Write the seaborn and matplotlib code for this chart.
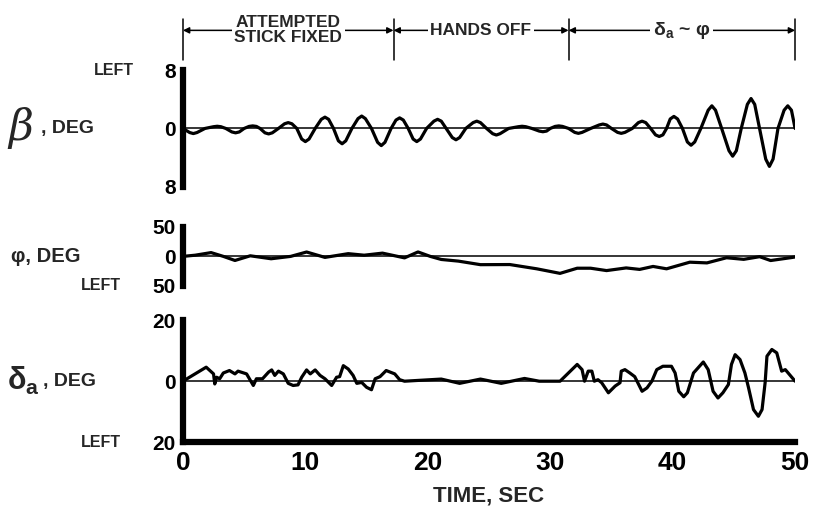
import numpy as np
import pandas as pd
import seaborn as sns
import matplotlib.transforms as mtransforms
from matplotlib import pyplot as plt

# sideslip angle beta, deg (crossings, shoulders and peaks)
beta_t = [0.0, 0.55, 0.85, 1.15, 1.8, 2.5, 2.8, 3.1, 3.5, 4.0, 4.3, 4.6, 5.0, 5.4, 5.7, 6.0,
          6.3, 6.7, 7.0, 7.3, 7.8, 8.3, 8.6, 8.9, 9.3, 9.7, 10.0, 10.3, 10.8, 11.3, 11.6, 11.9,
          12.3, 12.7, 13.0, 13.3, 13.8, 14.3, 14.6, 14.9, 15.4, 15.9, 16.2, 16.5, 17.0, 17.4,
          17.7, 18.0, 18.4, 18.8, 19.1, 19.4, 19.9, 20.5, 20.8, 21.1, 21.5, 22.0, 22.3, 22.6,
          23.1, 23.7, 24.0, 24.3, 24.8, 25.3, 25.6, 25.9, 26.6, 27.4, 27.7, 28.0, 28.5, 29.1,
          29.4, 29.7, 30.0, 30.4, 30.7, 31.0, 31.5, 32.0, 32.3, 32.6, 33.3, 34.0, 34.3, 34.6,
          35.0, 35.5, 35.8, 36.1, 36.7, 37.2, 37.5, 37.8, 38.2, 38.6, 38.9, 39.2, 39.5, 39.8,
          40.1, 40.4, 40.8, 41.2, 41.5, 41.8, 42.3, 42.9, 43.2, 43.5, 44.0, 44.6, 44.9, 45.2,
          45.6, 46.1, 46.4, 46.7, 47.1, 47.6, 47.9, 48.2, 48.6, 49.1, 49.4, 49.7, 50.0]
beta_deg = [0.0, -0.56, -0.7, -0.56, 0.0, 0.24, 0.3, 0.24, 0.0, -0.48, -0.6, -0.48, 0.0, 0.28, 0.35, 0.28,
            0.0, -0.6, -0.75, -0.6, 0.0, 0.64, 0.8, 0.64, 0.0, -1.45, -1.8, -1.45, 0.0, 1.25, 1.55, 1.25,
            0.0, -1.7, -2.1, -1.7, 0.0, 1.35, 1.7, 1.35, 0.0, -1.9, -2.35, -1.9, 0.0, 1.15,
            1.45, 1.15, 0.0, -1.45, -1.8, -1.45, 0.0, 1.0, 1.25, 1.0, 0.0, -1.25, -1.55, -1.25,
            0.0, 0.8, 1.0, 0.8, 0.0, -0.72, -0.9, -0.72, 0.0, 0.24, 0.3, 0.24, 0.0, -0.36,
            -0.45, -0.36, 0.0, 0.28, 0.35, 0.28, 0.0, -0.54, -0.67, -0.54, 0.0, 0.48, 0.6, 0.48,
            0.0, -0.54, -0.67, -0.54, 0.0, 0.8, 1.0, 0.8, 0.0, -0.88, -1.1, -0.88, 0.0, 1.3,
            1.65, 1.3, 0.0, -1.85, -2.3, -1.85, 0.0, 2.5, 3.1, 2.5, 0.0, -3.05, -3.8, -3.05,
            0.0, 3.3, 4.1, 3.3, 0.0, -4.2, -5.2, -4.2, 0.0, 2.5, 3.1, 2.5, 0.0]

# bank angle phi, deg
phi_t = [0.0, 1.0, 2.3, 3.3, 4.25, 5.5, 7.2, 8.8, 10.1, 11.6, 13.5, 14.8, 16.3, 18.1, 19.2, 20.2,
         21.1, 22.5, 24.3, 26.7, 28.9, 30.8, 32.2, 33.3, 34.6, 36.2, 37.3, 38.4, 39.5, 41.4,
         42.8, 44.4, 45.8, 47.1, 48.0, 49.7, 50.0]
phi_deg = [0.0, 2.0, 6.4, 0.0, -6.9, 1.0, -4.0, 0.0, 7.4, -1.7, 4.6, 2.0, 5.5, -2.5, 7.5, 0.0,
           -5.2, -8.0, -14.0, -13.8, -21.0, -28.7, -20.0, -20.0, -24.0, -19.5, -22.0, -17.0, -21.0, -9.8,
           -11.0, -2.3, -5.0, -0.5, -7.0, -2.0, -1.0]

# aileron deflection delta_a, deg
da_t = [0.0, 1.9, 2.5, 2.6, 2.75, 3.0, 3.3, 3.8, 4.25, 4.5, 5.2, 5.75, 6.0, 6.5, 7.0, 7.25, 7.5,
        7.8, 8.2, 8.6, 9.0, 9.4, 9.7, 10.1, 10.4, 10.8, 11.2, 11.6, 12.15, 12.55, 12.8, 13.1,
        13.5, 13.9, 14.2, 14.6, 15.0, 15.4, 15.7, 16.1, 16.6, 17.3, 17.7, 18.1, 21.1, 22.6,
        24.3, 26.0, 27.9, 29.1, 30.6, 30.8, 32.2, 32.6, 32.8, 33.1, 33.4, 33.6, 33.9, 34.2,
        34.75, 35.3, 35.7, 35.8, 36.1, 36.5, 36.9, 37.5, 37.9, 38.3, 38.7, 39.2, 39.9, 40.2,
        40.5, 40.9, 41.2, 41.7, 42.5, 42.9, 43.3, 43.7, 44.1, 44.55, 44.8, 45.1, 45.5, 45.9,
        46.2, 46.6, 47.0, 47.3, 47.55, 47.7, 48.1, 48.5, 48.9, 49.2, 49.6, 50.0]
da_deg = [0.0, 4.6, 2.4, -0.9, 1.3, 0.8, 2.7, 3.5, 2.4, 3.3, 2.4, -1.4, 0.8, 0.8, 3.0, 3.7, 1.9,
          3.3, 2.4, -0.7, -1.4, -1.2, 1.3, 3.7, 2.4, 3.7, 1.9, 0.8, -1.4, 1.3, 1.5, 5.1,
          4.0, 1.9, -0.7, -0.4, -2.0, -2.8, 0.8, 1.5, 3.5, 2.4, 0.5, 0.0, 0.7, -0.7,
          0.7, -0.7, 0.9, 0.0, 0.0, 0.0, 5.5, 3.8, 0.0, 3.3, 3.3, 0.0, 0.5, -0.5,
          -3.8, -1.6, -0.5, 3.3, 3.8, 2.7, 1.5, -3.3, -2.2, 0.0, 3.8, 4.9, 4.9, 2.7,
          -3.3, -5.1, -3.8, 2.7, 6.3, 3.8, -3.3, -5.5, -3.8, -1.1, 5.5, 8.7, 7.1, 2.7,
          -2.2, -9.3, -11.5, -9.3, -0.5, 8.2, 10.4, 9.3, 3.3, 3.8, 1.9, 0.0]

phase_bounds = [0.0, 17.2, 31.5, 50.0]
phase_labels = ['ATTEMPTED\nSTICK FIXED', 'HANDS OFF', r'$\mathregular{\delta_a}$ ~ φ']

time_ticks = [0, 10, 20, 30, 40, 50]

sns.set_style('white')
plt.rcParams['font.family'] = ['Liberation Sans', 'DejaVu Sans']
plt.rcParams['font.weight'] = 'bold'
plt.rcParams['axes.labelweight'] = 'bold'
plt.rcParams['mathtext.fontset'] = 'custom'
plt.rcParams['mathtext.rm'] = 'Liberation Sans:bold'

fig = plt.figure(figsize=(8.13, 5.19), dpi=100)
left, width = 0.225, 0.753
ax_b = fig.add_axes([left, 0.640, width, 0.225])
ax_p = fig.add_axes([left, 0.449, width, 0.114])
ax_d = fig.add_axes([left, 0.148, width, 0.235])

panels = [
    (ax_b, beta_t, beta_deg, 8, ['8', '0', '8'], 'top'),
    (ax_p, phi_t, phi_deg, 50, ['50', '0', '50'], 'bottom'),
    (ax_d, da_t, da_deg, 20, ['20', '0', '20'], 'bottom'),
]

for ax, t, v, lim, labels, left_side in panels:
    df = pd.DataFrame({'t': t, 'v': v})
    sns.lineplot(data=df, x='t', y='v', ax=ax, color='black', lw=2.3, sort=False)
    ax.axhline(0, color='black', lw=1.1)
    ax.set_xlim(0, 50)
    ax.set_ylim(-lim, lim)
    ax.set_xlabel('')
    ax.set_ylabel('')
    for s in ['top', 'right', 'bottom']:
        ax.spines[s].set_visible(False)
    ax.spines['left'].set_linewidth(4.5)
    ax.spines['left'].set_color('black')
    ax.set_yticks([-lim, 0, lim])
    ax.set_yticklabels(labels)
    ax.tick_params(axis='y', direction='in', length=8, width=2.2, labelsize=15, pad=5,
                   colors='black')
    ax.yaxis.get_major_ticks()[1].tick1line.set_visible(False)
    ax.set_xticks([])
    # "LEFT" marker next to the tick label
    yl = lim if left_side == 'top' else -lim
    xoff = -0.080 if lim < 10 else -0.101
    ax.text(xoff, yl, 'LEFT', transform=mtransforms.blended_transform_factory(ax.transAxes, ax.transData),
            ha='right', va='center', fontsize=11.5)

# bottom axis on delta_a panel
ax_d.spines['bottom'].set_visible(True)
ax_d.spines['bottom'].set_linewidth(4.5)
ax_d.spines['bottom'].set_color('black')
ax_d.set_xticks(time_ticks)
ax_d.set_xticklabels([str(x) for x in time_ticks])
ax_d.tick_params(axis='x', direction='in', length=11, width=1.3, labelsize=19, pad=6,
                 colors='black')
ax_d.set_xlabel('TIME, SEC', fontsize=16, fontweight='bold', labelpad=8)

# y-axis titles
def ylab(ax, x, s, size, **kw):
    tr = mtransforms.blended_transform_factory(ax.transAxes, ax.transData)
    ax.text(x, 0, s, transform=tr, ha='left', va='center', fontsize=size, **kw)

ylab(ax_b, -0.285, 'β', 31, family=['DejaVu Serif'], style='italic', weight='normal')
ylab(ax_b, -0.232, ', DEG', 14)
ylab(ax_p, -0.281, 'φ, DEG', 14.5)
ylab(ax_d, -0.287, r'$\mathregular{\delta_a}$', 22)
ylab(ax_d, -0.228, ', DEG', 14)

# phase brackets above the top panel
tr = mtransforms.blended_transform_factory(ax_b.transData, ax_b.transAxes)
for b in phase_bounds:
    ax_b.plot([b, b], [1.09, 1.44], transform=tr, color='black', lw=1.1, clip_on=False)
for i, lab in enumerate(phase_labels):
    a, b = phase_bounds[i], phase_bounds[i + 1]
    ax_b.annotate('', xy=(a, 1.34), xytext=(b, 1.34), xycoords=tr, textcoords=tr,
                  arrowprops=dict(arrowstyle='<|-|>', color='black', lw=1.1,
                                  mutation_scale=9, shrinkA=0, shrinkB=0))
    ax_b.text((a + b) / 2, 1.34, lab, transform=tr, ha='center', va='center',
              fontsize=12.5 if i < 2 else 14, linespacing=1.0,
              bbox=dict(facecolor='white', edgecolor='none', pad=2))

fig.savefig('out.png', dpi=100)
